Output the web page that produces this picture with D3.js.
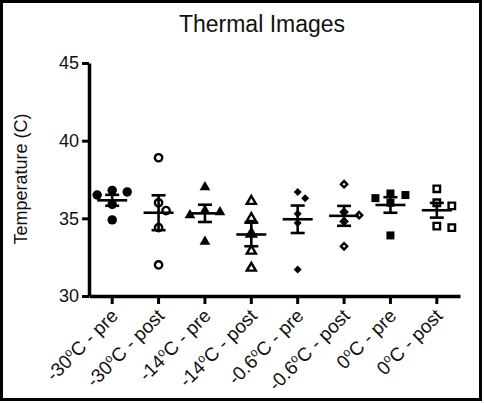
<!DOCTYPE html>
<html><head><meta charset="utf-8">
<script src="https://cdn.jsdelivr.net/npm/d3@7/dist/d3.min.js"></script>
<style>body{margin:0;background:#fff}svg{display:block;font-family:"Liberation Sans",Arial,sans-serif}</style>
</head><body><svg id="c" width="484" height="403"></svg>
<script>
const title = "Thermal Images";
const yLabel = "Temperature (C)";
const temps = ["-30","-30","-14","-14","-0.6","-0.6","0","0"];
const phases = ["pre","post","pre","post","pre","post","pre","post"];
const categories = temps.map((t,i)=>t+"|"+phases[i]);
const yTicks = [30,35,40,45];
const vPre30  = [36.8,36.7,36.5,35.9,34.9];
const vPost30 = [38.9,36.0,35.5,34.4,32.0];
const vPre14  = [37.0,35.5,35.4,35.2,33.5];
const vPost14 = [36.1,35.0,34.0,32.9,31.8];
const vPre06  = [36.7,36.3,35.3,34.7,31.7];
const vPost06 = [37.2,35.4,35.2,34.8,33.2];
const vPre0   = [36.6,36.5,36.3,36.0,33.9];
const vPost0  = [36.9,36.0,35.8,34.5,34.4];
const seriesValues = [vPre30,vPost30,vPre14,vPost14,vPre06,vPost06,vPre0,vPost0];
const shapes = ["circle","circle","triangle","triangle","diamond","diamond","square","square"];

const svg = d3.select("#c");
svg.append("rect").attr("x",1.5).attr("y",1.5).attr("width",479).attr("height",398)
  .attr("fill","#fff").attr("stroke","#000").attr("stroke-width",3);

const x = d3.scaleBand().domain(categories).range([89,460]);
const y = d3.scaleLinear().domain([30,45]).range([296,63]);

svg.append("text").attr("x",262).attr("y",32).attr("text-anchor","middle")
  .attr("font-size",23).attr("fill","#111").text(title);
svg.append("text").attr("transform","translate(27,179) rotate(-90)").attr("text-anchor","middle")
  .attr("font-size",18).attr("fill","#111").text(yLabel);

const gy = svg.append("g").attr("transform","translate(89,0)")
  .call(d3.axisLeft(y).tickValues(yTicks).tickSize(7).tickSizeOuter(0).tickPadding(3));
gy.select(".domain").attr("stroke-width",3.5).attr("stroke","#000");
gy.selectAll(".tick line").attr("stroke-width",3).attr("stroke","#000");
gy.selectAll(".tick text").attr("font-size",18).attr("fill","#111").attr("font-family","Liberation Sans, Arial, sans-serif");

const gx = svg.append("g").attr("transform","translate(0,296)")
  .call(d3.axisBottom(x).tickSize(8).tickSizeOuter(0).tickFormat(""));
gx.select(".domain").attr("stroke-width",3.5).attr("stroke","#000");
gx.selectAll(".tick line").attr("stroke-width",3).attr("stroke","#000");
gx.selectAll(".tick").each(function(d,i){
  const t = d3.select(this).append("text").attr("fill","#111").attr("font-size",19)
    .attr("font-family","Liberation Sans, Arial, sans-serif")
    .attr("text-anchor","end").attr("transform","translate(7,21) rotate(-45)");
  t.append("tspan").text(temps[i]);
  t.append("tspan").attr("font-size",12).attr("dy",-7).text("o");
  t.append("tspan").attr("dy",7).text("C - "+phases[i]);
});

function symPath(shape, open){
  if(shape==="circle") return d3.symbol().type(d3.symbolCircle).size(open?42:70)();
  if(shape==="triangle") return d3.symbol().type(d3.symbolTriangle).size(open?36:50)();
  if(shape==="square") return d3.symbol().type(d3.symbolSquare).size(open?42:64)();
  return d3.symbol().type(d3.symbolSquare).size(open?20:32)();
}

const cx0 = x.bandwidth()/2;
seriesValues.forEach((vals,i)=>{
  const open = phases[i]==="post";
  const shape = shapes[i];
  const cx = x(categories[i]) + cx0;
  const g = svg.append("g");
  const r = 9, step = 7.5;
  const placed = [];
  const sorted = vals.map(v=>({v, py:y(v)})).sort((a,b)=>b.v-a.v);
  sorted.forEach(p=>{
    const offs=[0];
    for(let k=1;k<6;k++){offs.push(k*step,-k*step);}
    for(const o of offs){
      if(placed.every(q=>Math.hypot(q.px-o,q.py-p.py)>=r)){p.px=o;break;}
    }
    if(p.px===undefined) p.px=0;
    placed.push(p);
  });
  g.selectAll("path.pt").data(sorted).join("path").attr("class","pt")
    .attr("d",symPath(shape,open))
    .attr("transform",p=>`translate(${cx+p.px},${p.py})`+(shape==="diamond"?" rotate(45)":""))
    .attr("fill",open?"#fff":"#000").attr("stroke","#000").attr("stroke-width",open?2.4:0);
  const m = d3.mean(vals);
  const sem = d3.deviation(vals)/Math.sqrt(vals.length);
  const ln = (x1,y1,x2,y2)=>g.append("line").attr("x1",x1).attr("y1",y1).attr("x2",x2).attr("y2",y2)
    .attr("stroke","#000").attr("stroke-width",2.6);
  ln(cx-15,y(m),cx+15,y(m));
  ln(cx,y(m+sem),cx,y(m-sem));
  ln(cx-7,y(m+sem),cx+7,y(m+sem));
  ln(cx-7,y(m-sem),cx+7,y(m-sem));
});
</script></body></html>
